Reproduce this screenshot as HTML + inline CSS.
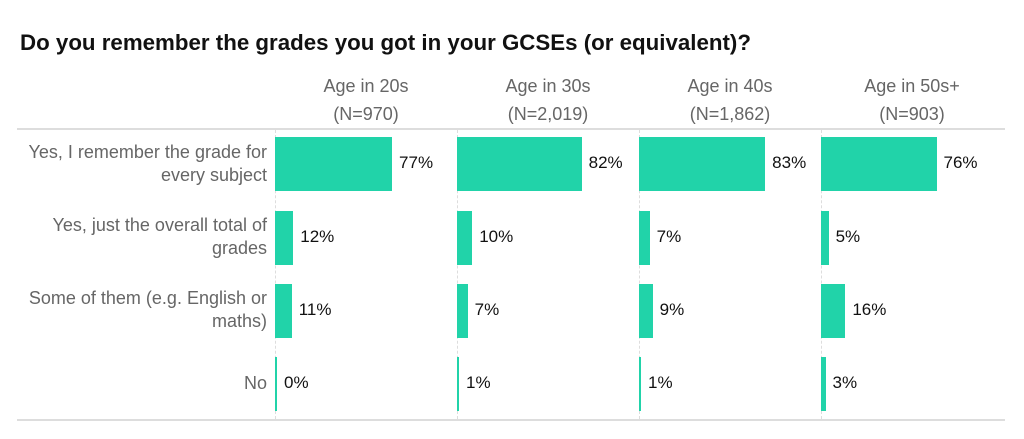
<!DOCTYPE html>
<html><head><meta charset="utf-8"><style>
body{margin:0;width:1024px;height:439px;background:#fff;font-family:"Liberation Sans",sans-serif;position:relative;overflow:hidden}
.a{position:absolute;white-space:nowrap}
.t{left:20px;top:30px;font-size:22.3px;font-weight:bold;color:#111}
.h{font-size:18px;color:#666;text-align:center;width:182px;line-height:28px}
.l{font-size:18px;color:#666;text-align:right;right:757px;line-height:23px}
.b{background:#21d3a9}
.v{font-size:17px;color:#111}
.vl{border-left:1px dashed #ddd;width:0}
.hl{height:2px;background:#ddd;left:17px;width:988px}
</style></head><body>
<div class="a t">Do you remember the grades you got in your GCSEs (or equivalent)?</div>
<div class="a hl" style="top:128px"></div>
<div class="a hl" style="top:419px"></div>
<div class="a l" style="top:141px">Yes, I remember the grade for<br>every subject</div>
<div class="a l" style="top:214px">Yes, just the overall total of<br>grades</div>
<div class="a l" style="top:287px">Some of them (e.g. English or<br>maths)</div>
<div class="a l" style="top:372px">No</div>
<div id="c"></div>
<script>
var hs=[["Age in 20s","(N=970)",[77,12,11,0]],["Age in 30s","(N=2,019)",[82,10,7,1]],["Age in 40s","(N=1,862)",[83,7,9,1]],["Age in 50s+","(N=903)",[76,5,16,3]]];
var tops=[137,211,284,357],h="";
hs.forEach(function(c,i){var x=275+182*i;
h+='<div class="a h" style="left:'+(x)+'px;top:72px">'+c[0]+'<br>'+c[1]+'</div>';
h+='<div class="a vl" style="left:'+x+'px;top:130px;height:289px"></div>';
c[2].forEach(function(p,j){var w=Math.max(2,p*1.52);
h+='<div class="a b" style="left:'+x+'px;top:'+tops[j]+'px;width:'+w+'px;height:54px"></div>';
h+='<div class="a v" style="left:'+(x+w+7)+'px;top:'+(tops[j]+16)+'px">'+p+'%</div>';});});
document.getElementById('c').innerHTML=h;
</script>
</body></html>
